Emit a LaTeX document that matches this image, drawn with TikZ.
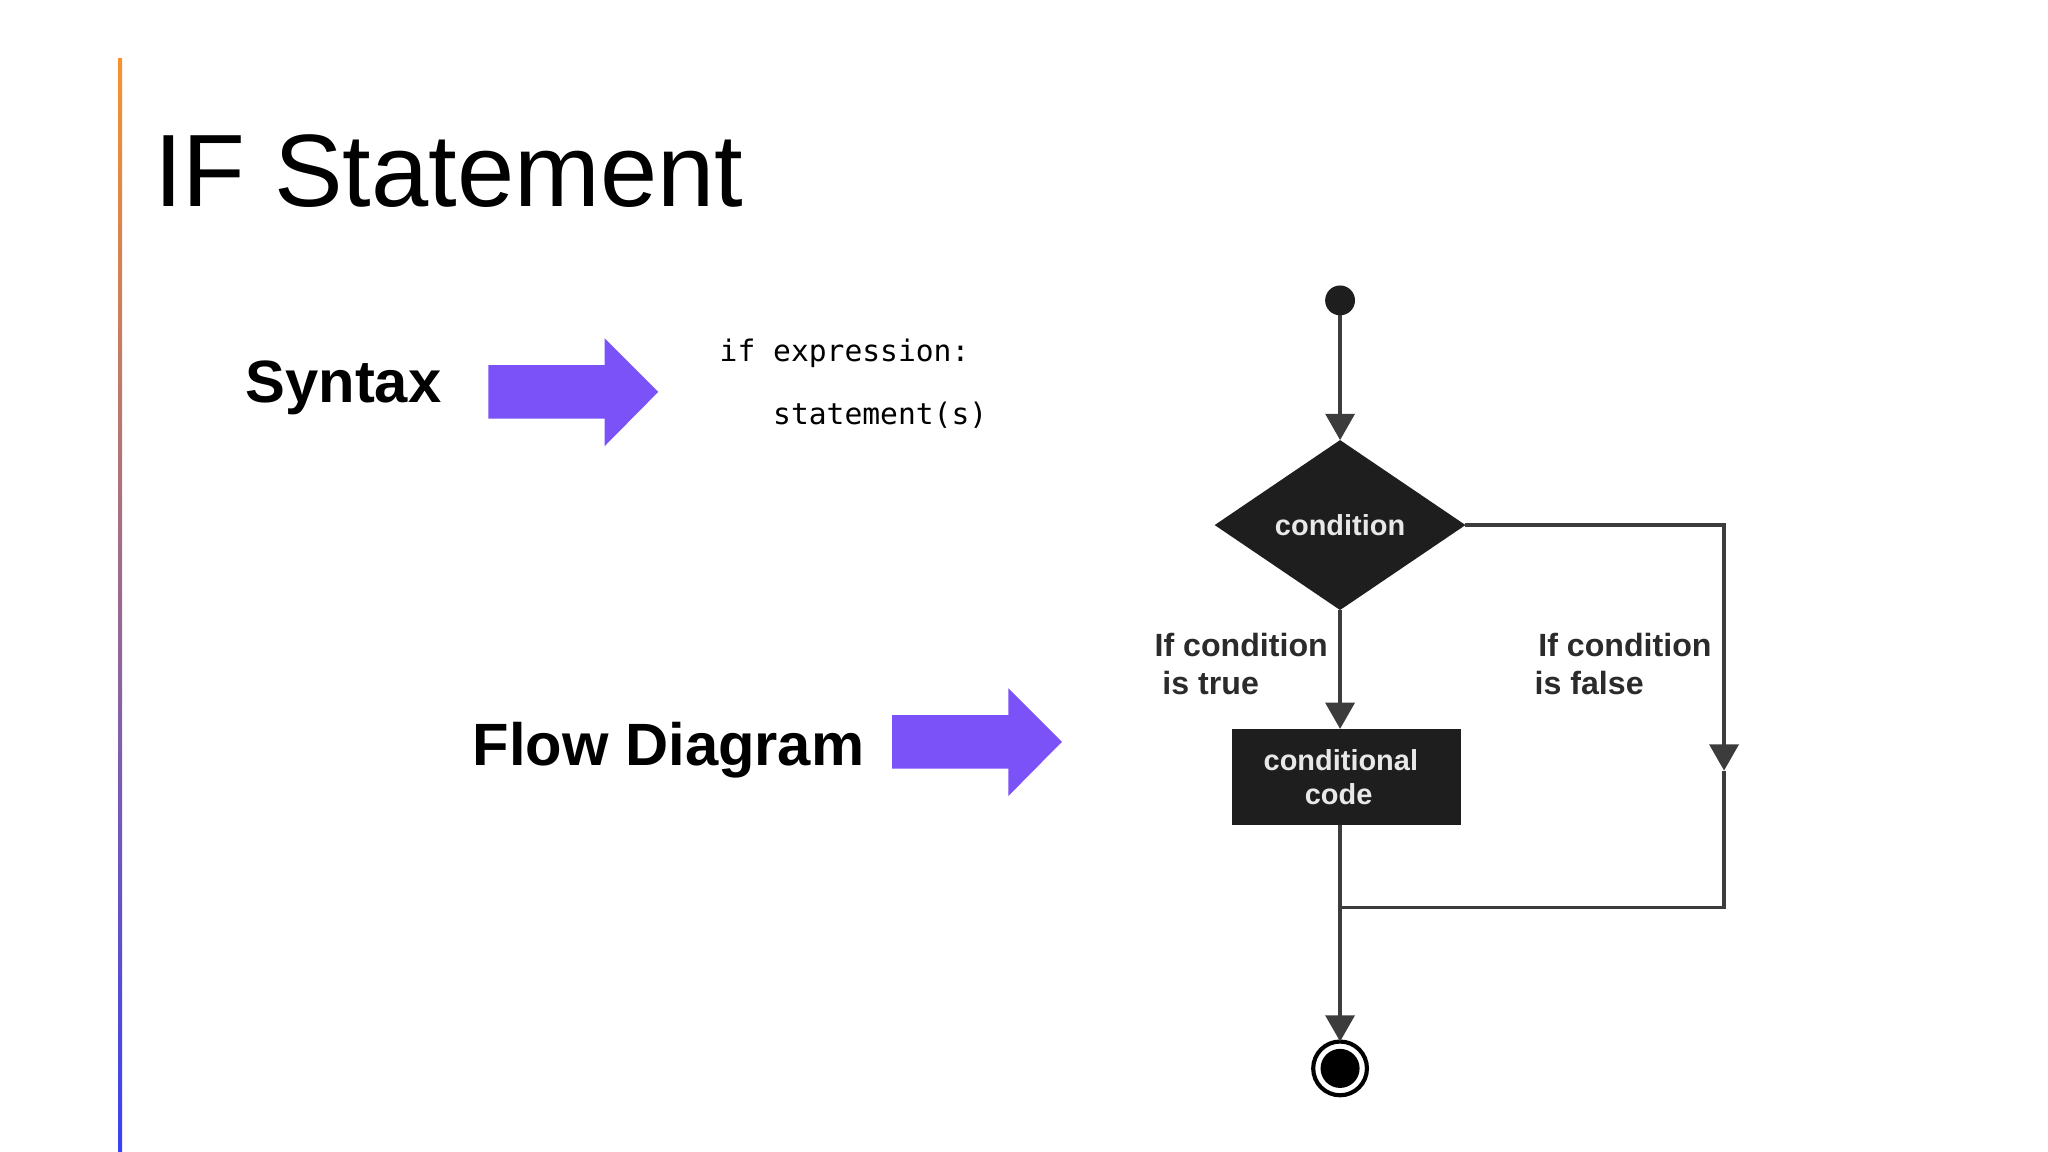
\documentclass[tikz,border=0pt]{standalone}
\usepackage{fontspec}
\setmainfont{Liberation Sans}
\newfontfamily\monofamily{DejaVu Sans Mono}
\newcommand*{\titlefont}{\fontsize{22.4}{27}\selectfont}
\newcommand*{\headfont}{\bfseries\fontsize{13}{15}\selectfont}
\newcommand*{\listfont}{\monofamily\fontsize{6.45}{8}\selectfont}
\newcommand*{\shapefont}{\bfseries\fontsize{6.3}{7.4}\selectfont}
\newcommand*{\labelfont}{\bfseries\fontsize{7}{8.25}\selectfont}
\definecolor{arrowviolet}{HTML}{7B52F7}
\definecolor{barorange}{HTML}{F7922E}
\definecolor{barpink}{HTML}{D47BB6}
\definecolor{barblue}{HTML}{3A40F5}
\definecolor{flowline}{HTML}{3C3C3C}
\definecolor{flowfill}{HTML}{1E1E1E}
\definecolor{flowtext}{HTML}{E8E8E8}
\definecolor{labeltext}{HTML}{2B2B2B}
\usetikzlibrary{arrows.meta}
\usetikzlibrary{shapes.geometric}
\usetikzlibrary{positioning}
\tikzstyle{base}=[inner sep=0pt, outer sep=0pt]
\tikzstyle{flowpath}=[draw=flowline, line width=0.75pt]
\tikzstyle{flowarrow}=[flowpath, -{Triangle[length=5.7pt, width=6.3pt]}]
\tikzstyle{startdot}=[circle, fill=flowfill, minimum size=6.5pt]
\tikzstyle{decision}=[diamond, aspect=1.5, fill=flowfill, minimum width=54.6pt, minimum height=37pt, text=flowtext, font=\shapefont]
\tikzstyle{process}=[rectangle, fill=flowfill, minimum width=50pt, minimum height=21pt, text=flowtext, align=center, font=\shapefont]
\tikzstyle{endring}=[circle, draw=black, line width=0.9pt, minimum size=11.7pt]
\tikzstyle{enddot}=[circle, fill=black, minimum size=8.5pt]
\tikzstyle{branchlabel}=[text=labeltext, align=left, font=\labelfont]
\newcommand*{\bigarrow}[2]{%
    \fill [arrowviolet] (#1,#2-20.5) -- (#1+89,#2-20.5) -- (#1+89,#2-41) -- (#1+130,#2)
        -- (#1+89,#2+41.5) -- (#1+89,#2+20.5) -- (#1,#2+20.5) -- cycle;}

\begin{document}
\begin{tikzpicture}[base, x=0.01cm, y=-0.01cm]
    \path [use as bounding box] (0,0) rectangle (1568,882);
    \shade [top color=barorange, middle color=barpink, bottom color=barblue] (90.5,45) rectangle (93.5,882);
    \node [anchor=base west] (title) at (118,158) {\titlefont IF Statement};
    \node [anchor=base west] (syntax) at (188,308) {\headfont Syntax};
    \node [anchor=base west] (flowdiagram) at (362,586) {\headfont Flow Diagram};
    \bigarrow{374}{300}
    \bigarrow{683}{568}
    \node [anchor=base west] (ifline) at (551,277) {\listfont if expression:};
    \node [anchor=base west] (stmtline) at (592,325) {\listfont statement(s)};

    \node [startdot] (start) at (1026,230) {};
    \node [decision] (cond) at (1026,402) {condition};
    \node [process] (box) at (1031,595) {\hspace*{-2.5pt}conditional\\\hspace*{-3.5pt}code};
    \node [endring] (end) at (1026,818) {};
    \node [enddot] (enddot) at (end) {};
    \node [branchlabel, anchor=north west] (truelabel) at (884,485) {If condition\\\hspace*{1.7pt}is true};
    \node [branchlabel, anchor=north west] (falselabel) at (1175,485) {\hspace*{0.8pt}If condition\\is false};
    \coordinate (falsetip) at (1320,590);
    \coordinate (falsecorner) at (1320,695);
    \coordinate (merge) at (cond.south |- falsecorner);

    \draw [flowarrow] (start) -- (cond);
    \draw [flowarrow] (cond) -- (cond.south |- box.north);
    \draw [flowarrow] (cond.east) -| (falsetip);
    \draw [flowpath] (falsetip) -- (falsecorner) -- (merge);
    \draw [flowarrow] (box.south -| cond.south) -- (end);
\end{tikzpicture}
\end{document}
